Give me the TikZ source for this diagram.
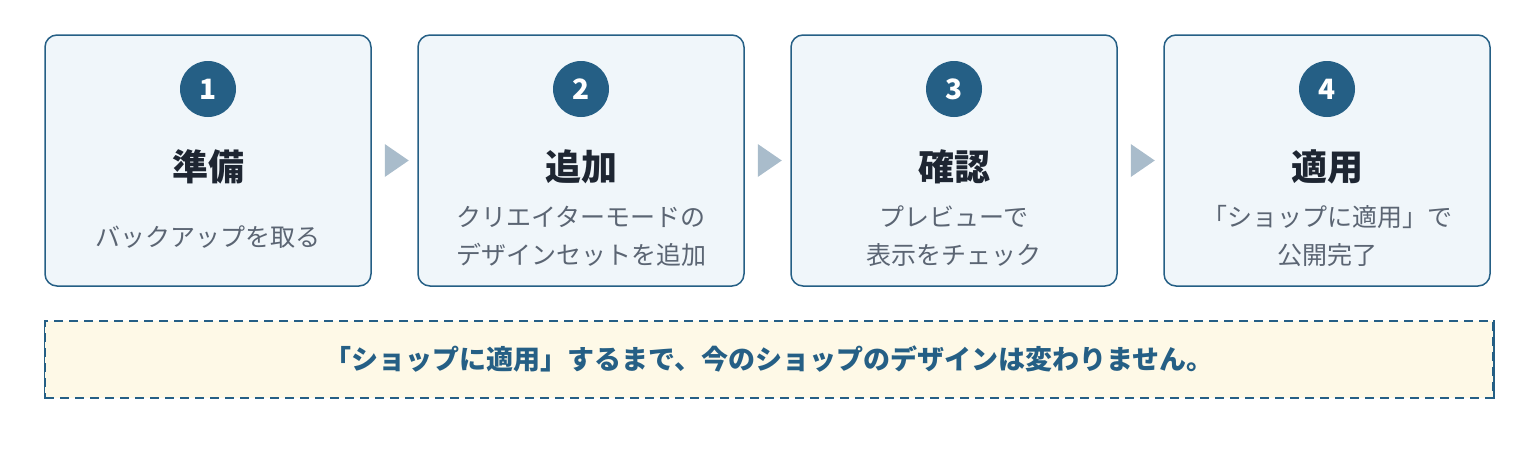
\documentclass[tikz,border=0pt]{standalone}
\usepackage{fontspec}
\setmainfont{Noto Sans CJK JP}
\usetikzlibrary{calc}

\definecolor{stepblue}{HTML}{255F85}
\definecolor{stepfill}{HTML}{F0F6FA}
\definecolor{titlecol}{HTML}{1E2632}
\definecolor{subcol}{HTML}{5B6573}
\definecolor{arrowcol}{HTML}{A9BCCB}
\definecolor{notefill}{HTML}{FEF9E7}

\tikzset{
  stepbox/.style={draw=stepblue, fill=stepfill, line width=1.5pt, rounded corners=12pt,
    minimum width=326pt, minimum height=251pt},
  numdot/.style={circle, fill=stepblue, text=white, minimum size=56pt, inner sep=0pt,
    font=\fontsize{28}{28}\selectfont\bfseries},
  steptitle/.style={text=titlecol, inner sep=0pt, font=\fontsize{36}{36}\selectfont\bfseries},
  stepsub/.style={text=subcol, inner sep=0pt, align=center, font=\fontsize{25}{38}\selectfont},
  steparrow/.style={fill=arrowcol},
  notebox/.style={draw=stepblue, fill=notefill, line width=1.5pt, dash pattern=on 9pt off 6pt,
    minimum width=1448pt, minimum height=77pt, text=stepblue, font=\fontsize{27}{27}\selectfont\bfseries}
}

\begin{document}
\begin{tikzpicture}[x=1pt,y=-1pt]
        \useasboundingbox (0,0) rectangle (1536,448);

        % Step boxes
        \node[stepbox] (box1) at (208,160.5) {};
        \node[stepbox] (box2) at (581,160.5) {};
        \node[stepbox] (box3) at (954,160.5) {};
        \node[stepbox] (box4) at (1327,160.5) {};

        % Step numbers
        \node[numdot] (num1) at (208,89) {1};
        \node[numdot] (num2) at (581,89) {2};
        \node[numdot] (num3) at (954,89) {3};
        \node[numdot] (num4) at (1327,89) {4};

        % Step titles
        \node[steptitle] (title1) at (208,167) {準備};
        \node[steptitle] (title2) at (581,167) {追加};
        \node[steptitle] (title3) at (954,167) {確認};
        \node[steptitle] (title4) at (1327,167) {適用};

        % Step descriptions
        \node[stepsub] (sub1) at (208,237) {バックアップを取る};
        \node[stepsub] (sub2) at (581,236) {クリエイターモードの\\デザインセットを追加};
        \node[stepsub] (sub3) at (954,236) {プレビューで\\表示をチェック};
        \node[stepsub] (sub4) at (1327,236) {「ショップに適用」で\\公開完了};

        % Arrows between the steps
        \fill[steparrow] ($(box1.east)+(13,-16.5)$) -- ++(24,16.5) -- ++(-24,16.5) -- cycle;
        \fill[steparrow] ($(box2.east)+(13,-16.5)$) -- ++(24,16.5) -- ++(-24,16.5) -- cycle;
        \fill[steparrow] ($(box3.east)+(13,-16.5)$) -- ++(24,16.5) -- ++(-24,16.5) -- cycle;

        % Note
        \node[notebox] (note) at (769,359.5) {「ショップに適用」するまで、今のショップのデザインは変わりません。};
        \draw[stepblue, line width=1.5pt] (note.north west) -- (note.south west); % Left side
        \draw[stepblue, line width=1.5pt] (note.north east) -- (note.south east); % Right side
\end{tikzpicture}
\end{document}
